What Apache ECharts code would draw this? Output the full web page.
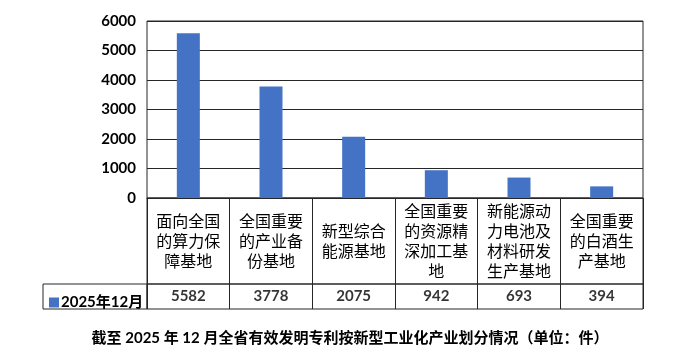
<!DOCTYPE html>
<html><head><meta charset="utf-8">
<script src="https://cdn.jsdelivr.net/npm/echarts@6/dist/echarts.min.js"></script>
<style>html,body{margin:0;padding:0;background:#fff}#c{width:700px;height:357px}</style>
</head><body><div id="c"></div>
<script>
const categories = ['面向全国的算力保障基地','全国重要的产业备份基地','新型综合能源基地','全国重要的资源精深加工基地','新能源动力电池及材料研发生产基地','全国重要的白酒生产基地'];
const seriesName = '2025年12月';
const values = [5582, 3778, 2075, 942, 693, 394];
const yTicks = {min:0, max:6000, interval:1000};
const titleText = '截至 2025 年 12 月全省有效发明专利按新型工业化产业划分情况（单位：件）';

const lineColor = '#262626';
const wrap4 = s => s.match(/.{1,4}/g).join('\n');
const chart = echarts.init(document.getElementById('c'));
chart.setOption({
  animation:false,
  title:{text:titleText,left:'center',top:326,textStyle:{fontSize:15,fontWeight:'bold',color:'#000',fontFamily:'Lato, "Noto Sans CJK SC", sans-serif'}},
  legend:{data:[seriesName],left:44,top:290,itemWidth:10,itemHeight:10,icon:'rect',itemGap:0,
    textStyle:{fontSize:15,fontWeight:'bold',color:'#000',fontFamily:'Lato, "Noto Sans CJK SC", sans-serif',padding:[0,0,0,-3]}},
  grid:[
    {left:147,top:21,width:496,height:177,show:true,borderColor:lineColor,borderWidth:1},
    {left:147,top:198,width:496,height:86,show:true,borderColor:lineColor,borderWidth:1},
    {left:147,top:284,width:496,height:25,show:true,borderColor:lineColor,borderWidth:1}
  ],
  xAxis:[
    {gridIndex:0,type:'category',data:categories,axisLine:{lineStyle:{color:lineColor}},axisTick:{show:false},
     axisLabel:{formatter:wrap4,margin:43,verticalAlign:'middle',fontSize:16,lineHeight:20,color:'#000',fontFamily:'"Noto Sans CJK SC", sans-serif',interval:0}},
    {gridIndex:1,type:'category',data:categories,axisLine:{show:false},axisTick:{show:false},axisLabel:{show:false},
     splitLine:{show:true,interval:0,lineStyle:{color:lineColor,width:1}}},
    {gridIndex:2,type:'category',data:categories,axisLine:{show:false},axisTick:{show:false},axisLabel:{show:false},
     splitLine:{show:true,interval:0,lineStyle:{color:lineColor,width:1}}}
  ],
  yAxis:[
    {gridIndex:0,type:'value',min:yTicks.min,max:yTicks.max,interval:yTicks.interval,axisLine:{show:false},axisTick:{show:false},
     splitLine:{lineStyle:{color:lineColor,width:1}},
     axisLabel:{margin:11,fontSize:15,fontWeight:'bold',color:'#000',fontFamily:'Lato, sans-serif',formatter:v=>String(v)}},
    {gridIndex:1,type:'value',show:false,min:0,max:1},
    {gridIndex:2,type:'value',show:false,min:0,max:1}
  ],
  graphic:[
    {type:'rect',shape:{x:43,y:284,width:104,height:25},style:{fill:'none',stroke:lineColor,lineWidth:1},silent:true}
  ],
  series:[
    {name:seriesName,type:'bar',xAxisIndex:0,yAxisIndex:0,data:values,barWidth:23,itemStyle:{color:'#4472C4'}},
    {type:'scatter',xAxisIndex:2,yAxisIndex:2,symbolSize:0,silent:true,
     data:values.map((v,i)=>[i,0.5,v]),
     label:{show:true,position:'inside',formatter:p=>String(p.value[2]),fontSize:15,fontWeight:'bold',color:'#000',fontFamily:'Lato, sans-serif'}}
  ]
});
</script></body></html>
